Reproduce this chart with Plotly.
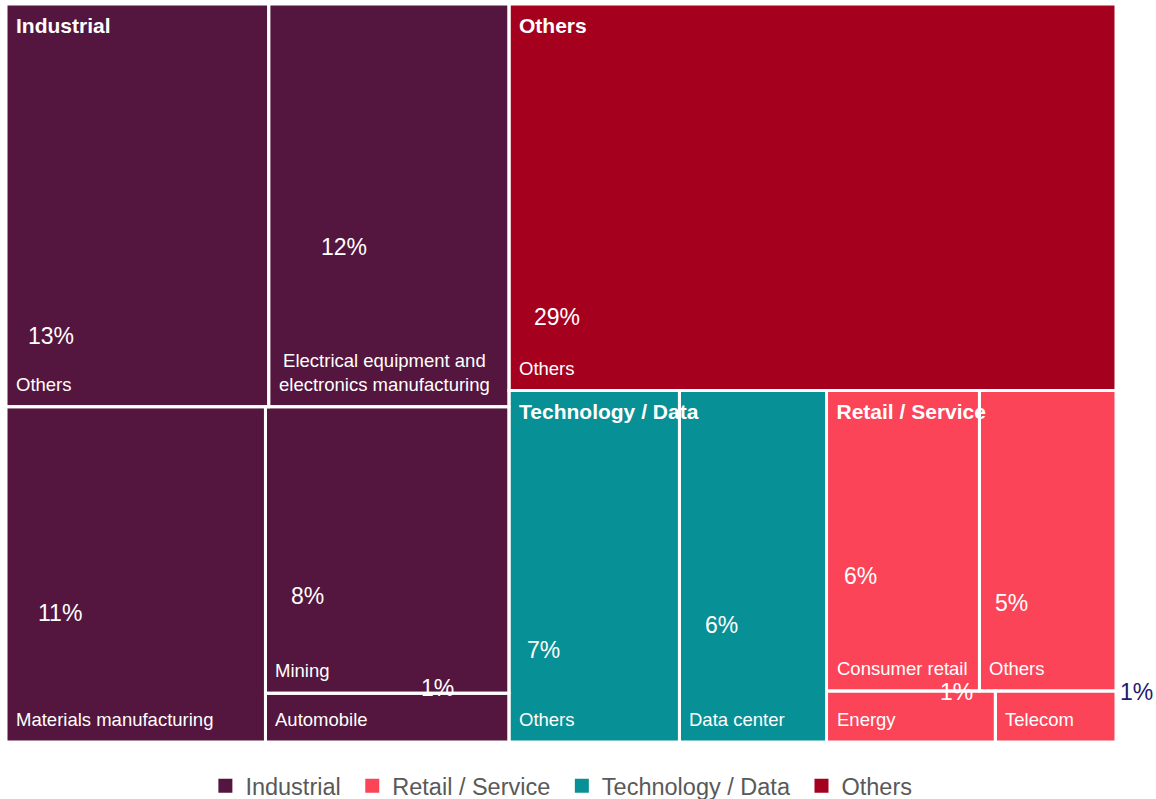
import plotly.graph_objects as go

# ---- data -------------------------------------------------------------
groups = ["Industrial", "Others", "Technology / Data", "Retail / Service"]
legend_order = ["Industrial", "Retail / Service", "Technology / Data", "Others"]

industrial_labels = ["Others", "Electrical equipment and<br>electronics manufacturing",
                     "Materials manufacturing", "Mining", "Automobile"]
industrial_values = [12.9, 11.8, 10.6, 8.5, 1.45]

others_labels = ["Others"]
others_values = [28.6]

tech_labels = ["Others", "Data center"]
tech_values = [7.3, 6.3]

retail_labels = ["Consumer retail", "Others", "Energy", "Telecom"]
retail_values = [5.6, 5.0, 1.05, 0.75]

subgroups = {
    "Industrial": (industrial_labels, industrial_values),
    "Others": (others_labels, others_values),
    "Technology / Data": (tech_labels, tech_values),
    "Retail / Service": (retail_labels, retail_values),
}

# ---- styling ----------------------------------------------------------
colors = {
    "Industrial": "#54163E",
    "Retail / Service": "#FB4458",
    "Technology / Data": "#079095",
    "Others": "#A6001F",
}
FONT = "Liberation Sans, Arial, Helvetica, sans-serif"
LAYOUT_ASPECT = 1.75          # width/height of the space the tiles are squarified in
W, H = 1156, 799
M = dict(l=6, r=40, t=4, b=57)
PLOT_W = W - M["l"] - M["r"]
PLOT_H = H - M["t"] - M["b"]
PX_X = PLOT_W / LAYOUT_ASPECT  # pixels per x unit
PX_Y = PLOT_H                  # pixels per y unit

# percent label anchor inside each tile (fraction of tile width / height)
pct_anchor = {
    ("Industrial", 0): (0.17, 0.825), ("Industrial", 1): (0.315, 0.604),
    ("Industrial", 2): (0.21, 0.616), ("Industrial", 3): (0.174, 0.659),
    ("Industrial", 4): (0.706, -0.10),
    ("Others", 0): (0.079, 0.81),
    ("Technology / Data", 0): (0.20, 0.738), ("Technology / Data", 1): (0.289, 0.667),
    ("Retail / Service", 0): (0.225, 0.617), ("Retail / Service", 1): (0.237, 0.707),
    ("Retail / Service", 2): (0.77, 0.02), ("Retail / Service", 3): (1.167, 0.02),
}
pct_color = {("Retail / Service", 3): "#1B1B6F"}


# ---- squarified treemap layout ---------------------------------------
def worst(row, side):
    s = sum(row)
    return max(max(side * side * r / (s * s), (s * s) / (side * side * r)) for r in row)


def squarify(values, x, y, dx, dy):
    total = sum(values)
    order = sorted(range(len(values)), key=lambda i: -values[i])
    areas = [values[i] * dx * dy / total for i in order]
    rects = [None] * len(values)
    k = 0
    while k < len(areas):
        side = min(dx, dy)
        row = [areas[k]]
        j = k + 1
        while j < len(areas) and worst(row + [areas[j]], side) <= worst(row, side):
            row.append(areas[j])
            j += 1
        s = sum(row)
        if dx >= dy:      # column on the left, stacked top to bottom
            w = s / dy
            yy = y
            for n, a in enumerate(row):
                h = a / w
                rects[order[k + n]] = (x, yy, x + w, yy + h)
                yy += h
            x += w
            dx -= w
        else:             # row along the top, left to right
            h = s / dx
            xx = x
            for n, a in enumerate(row):
                w = a / h
                rects[order[k + n]] = (xx, y, xx + w, y + h)
                xx += w
            y += h
            dy -= h
        k = j
    return rects


def to_paper(x, y):
    return x / LAYOUT_ASPECT, 1 - y


group_totals = [sum(subgroups[g][1]) for g in groups]
group_rects = squarify(group_totals, 0.0, 0.0, LAYOUT_ASPECT, 1.0)

fig = go.Figure()
shapes, annotations = [], []
head_x, head_y, head_t = [], [], []

for g, (gx0, gy0, gx1, gy1) in zip(groups, group_rects):
    labels, values = subgroups[g]
    cells = squarify(values, gx0, gy0, gx1 - gx0, gy1 - gy0)
    for i, (x0, y0, x1, y1) in enumerate(cells):
        shapes.append(dict(type="rect", xref="x", yref="y", x0=x0, x1=x1, y0=y0, y1=y1,
                           fillcolor=colors[g], line=dict(width=0), layer="below"))
        shapes.append(dict(type="rect", xref="x", yref="y", x0=x0, x1=x1, y0=y0, y1=y1,
                           fillcolor="rgba(0,0,0,0)", line=dict(color="white", width=3),
                           layer="above"))
        # subgroup name, bottom-left
        lx, ly = to_paper(x0, y1)
        annotations.append(dict(x=lx, y=ly, xref="paper", yref="paper", text=labels[i],
                                showarrow=False, xanchor="left", yanchor="bottom",
                                align="center", xshift=8, yshift=10,
                                font=dict(family=FONT, size=18.5, color="white")))
        # percentage (may sit outside the panel)
        fx, fy = pct_anchor[(g, i)]
        px, py = to_paper(x0 + fx * (x1 - x0), y0 + fy * (y1 - y0))
        annotations.append(dict(x=px, y=py, xref="paper", yref="paper",
                                text=f"{round(values[i])}%",
                                showarrow=False, xanchor="center", yanchor="middle",
                                font=dict(family=FONT, size=23,
                                          color=pct_color.get((g, i), "white"))))
    head_x.append(gx0 + 10 / PX_X)
    head_y.append(gy0 + 13 / PX_Y)
    head_t.append(f"<b>{g}</b>")

# group headers sit under the white tile borders
fig.add_trace(go.Scatter(x=head_x, y=head_y, text=head_t, mode="text",
                         textposition="bottom right", cliponaxis=False,
                         textfont=dict(family=FONT, size=21, color="white"),
                         showlegend=False, hoverinfo="skip"))

for g in legend_order:
    fig.add_trace(go.Scatter(x=[None], y=[None], mode="markers", name=g + "\u00a0",
                             marker=dict(symbol="square", size=14, color=colors[g])))

fig.update_layout(
    width=W, height=H, margin=M,
    paper_bgcolor="white", plot_bgcolor="white",
    shapes=shapes, annotations=annotations,
    xaxis=dict(range=[0, LAYOUT_ASPECT], visible=False, fixedrange=True),
    yaxis=dict(range=[1, 0], visible=False, fixedrange=True),
    showlegend=True,
    legend=dict(orientation="h", x=0.5035, xanchor="center", xref="paper",
                y=0.0163, yref="container", yanchor="middle",
                font=dict(family=FONT, size=23.5, color="#595959"),
                itemsizing="trace", bgcolor="rgba(0,0,0,0)"),
)

fig.write_html("out.html")
